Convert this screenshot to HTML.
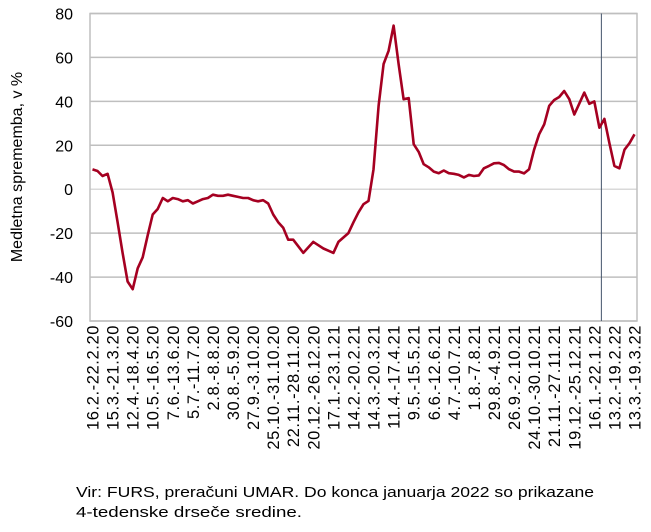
<!DOCTYPE html>
<html><head><meta charset="utf-8"><style>
html,body{margin:0;padding:0;background:#fff;}
svg{display:block;font-family:"Liberation Sans",sans-serif;}
</style></head><body>
<svg id="chart" width="651" height="532" viewBox="0 0 651 532">
<g id="grid"></g>
<g id="yticks"></g>
<g id="xticks"></g>
<g id="series"></g>
<text transform="translate(22,167) rotate(-90)" text-anchor="middle" font-size="16" fill="#000">Medletna sprememba, v %</text>
<text x="76" y="497" font-size="15" textLength="518" lengthAdjust="spacingAndGlyphs">Vir: FURS, preračuni UMAR. Do konca januarja 2022 so prikazane</text>
<text x="76" y="517" font-size="15" textLength="226" lengthAdjust="spacingAndGlyphs">4-tedenske drseče sredine.</text>
</svg>
<script>
const values = [9,8.3,6,7,-1.5,-15,-29,-42,-45.5,-36,-31,-21,-11.5,-9,-4,-5.5,-4,-4.5,-5.5,-5,-6.5,-5.5,-4.5,-4,-2.5,-3,-3,-2.5,-3,-3.5,-4,-4,-5,-5.5,-5,-6.5,-11.5,-15,-17.5,-23,-23,-26,-29,-26.5,-24,-25.5,-27,-28,-29,-24,-22,-20,-15,-10.5,-6.8,-5.3,9,38,57,63,74.5,57,41,41.5,20.5,17,11.4,10,8,7.3,8.5,7.3,7,6.5,5.4,6.5,6,6.3,9.5,10.6,11.8,12,11,9.1,8,8,7.2,9.1,18,25,29.5,38,40.6,42,44.7,41,34,39,44,38.9,40,28,32,21,10.6,9.5,18,21,25];
const tickLabels = ["16.2.-22.2.20","15.3.-21.3.20","12.4.-18.4.20","10.5.-16.5.20","7.6.-13.6.20","5.7.-11.7.20","2.8.-8.8.20","30.8.-5.9.20","27.9.-3.10.20","25.10.-31.10.20","22.11.-28.11.20","20.12.-26.12.20","17.1.-23.1.21","14.2.-20.2.21","14.3.-20.3.21","11.4.-17.4.21","9.5.-15.5.21","6.6.-12.6.21","4.7.-10.7.21","1.8.-7.8.21","29.8.-4.9.21","26.9.-2.10.21","24.10.-30.10.21","21.11.-27.11.21","19.12.-25.12.21","16.1.-22.1.22","13.2.-19.2.22","13.3.-19.3.22"];
const yTicks = [80,60,40,20,0,-20,-40,-60];
const markerIndex = 101.4;

const L=90,R=637,T=13.5,B=321;
const n=values.length, step=(R-L)/n;
const xs=i=>L+step*(i+0.5);
const ys=v=>T+(80-v)*(B-T)/140;
const NS="http://www.w3.org/2000/svg";
function mk(tag,attrs,parent){const e=document.createElementNS(NS,tag);for(const k in attrs)e.setAttribute(k,attrs[k]);parent.appendChild(e);return e;}
const grid=document.getElementById('grid'),yt=document.getElementById('yticks'),xt=document.getElementById('xticks'),ser=document.getElementById('series');
yTicks.forEach(v=>{
  const l=mk('line',{x1:L,x2:R,y1:ys(v),y2:ys(v),stroke:v===0?'#d9d9d9':'#bfbfbf','stroke-width':1.5},grid);
  
  
  const t=mk('text',{x:73,y:ys(v)+6,'text-anchor':'end','font-size':16},yt);
  t.textContent=v;
  
  
});
const fr=mk('rect',{x:L,y:T,width:R-L,height:B-T,fill:'none',stroke:'#bfbfbf','stroke-width':1.5},grid);


tickLabels.forEach((s,k)=>{
  const x=xs(k*4);
  const t=mk('text',{transform:`translate(${x+6},${B+4}) rotate(-90)`,'text-anchor':'end','font-size':16.5,'letter-spacing':0.6},xt);
  t.textContent=s;
  
  
});
const vl=mk('line',{x1:xs(markerIndex),x2:xs(markerIndex),y1:T,y2:B,stroke:'#44546a','stroke-width':1},ser);


const p=mk('polyline',{points:values.map((v,i)=>xs(i).toFixed(1)+','+ys(v).toFixed(1)).join(' '),fill:'none',stroke:'#a50021','stroke-width':2.6,'stroke-linejoin':'round'},ser);


</script>
</body></html>
